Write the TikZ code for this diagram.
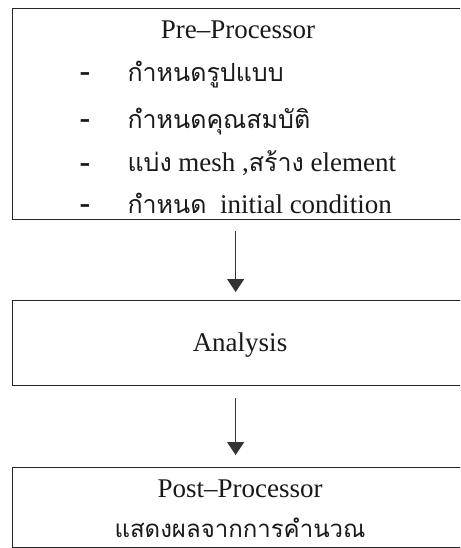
\documentclass[tikz,border=0pt]{standalone}
\usepackage{fontspec}
\setmainfont{Liberation Serif}
\newfontfamily\thaifont[Script=Thai]{Loma}
\usetikzlibrary{arrows.meta}
\tikzset{
  stagebox/.style={draw=black!85, line width=1.2pt, anchor=north west, minimum width=470pt, inner sep=0pt},
  flow/.style={draw=black!80, line width=1.3pt, -{Triangle[width=17pt,length=13pt]}},
  title/.style={font=\fontsize{27}{30}\selectfont, text=black!90},
  item/.style={anchor=west, font=\fontsize{27}{30}\selectfont, text=black!90},
  listdash/.style={font=\fontsize{32}{34}\selectfont\bfseries, text=black!90},
}
\newcommand{\thword}[1]{{\thaifont\fontsize{25}{30}\selectfont #1}}
\begin{document}
\begin{tikzpicture}[x=1pt,y=-1pt]
  \useasboundingbox (0,0) rectangle (460,548);
  \clip (0,0) rectangle (460,548);
  \node[stagebox, minimum height=211pt] (pre) at (12,8) {};
  \node[stagebox, minimum height=85pt] (ana) at (12,300) {};
  \node[stagebox, minimum height=80pt] (post) at (12,467) {};
  \node[title] (pretitle) at (238,30) {Pre--Processor};
  \node[listdash] (d1) at (85,77) {-};
  \node[listdash] (d2) at (85,124) {-};
  \node[listdash] (d3) at (85,168) {-};
  \node[listdash] (d4) at (85,209) {-};
  \node[item] (i1) at (124,75) {\thword{กำหนดรูปแบบ}};
  \node[item] (i2) at (124,122) {\thword{กำหนดคุณสมบัติ}};
  \node[item] (i3) at (124,163) {\thword{แบ่ง} mesh ,\thword{สร้าง} element};
  \node[item] (i4) at (124,203) {\thword{กำหนด}\ \ initial condition};
  \node[title] (anatitle) at (240,345) {Analysis};
  \node[title] (posttitle) at (240,489) {Post--Processor};
  \node[item, anchor=center] (postnote) at (240,528) {\thaifont\fontsize{24}{28}\selectfont แสดงผลจากการคำนวณ};
  \draw[flow, shorten <=11pt, shorten >=8pt] ([xshift=-12pt]pre.south) -- ([xshift=-12pt]ana.north);
  \draw[flow, shorten <=12pt, shorten >=12pt] ([xshift=-12pt]ana.south) -- ([xshift=-12pt]post.north);
\end{tikzpicture}
\end{document}
